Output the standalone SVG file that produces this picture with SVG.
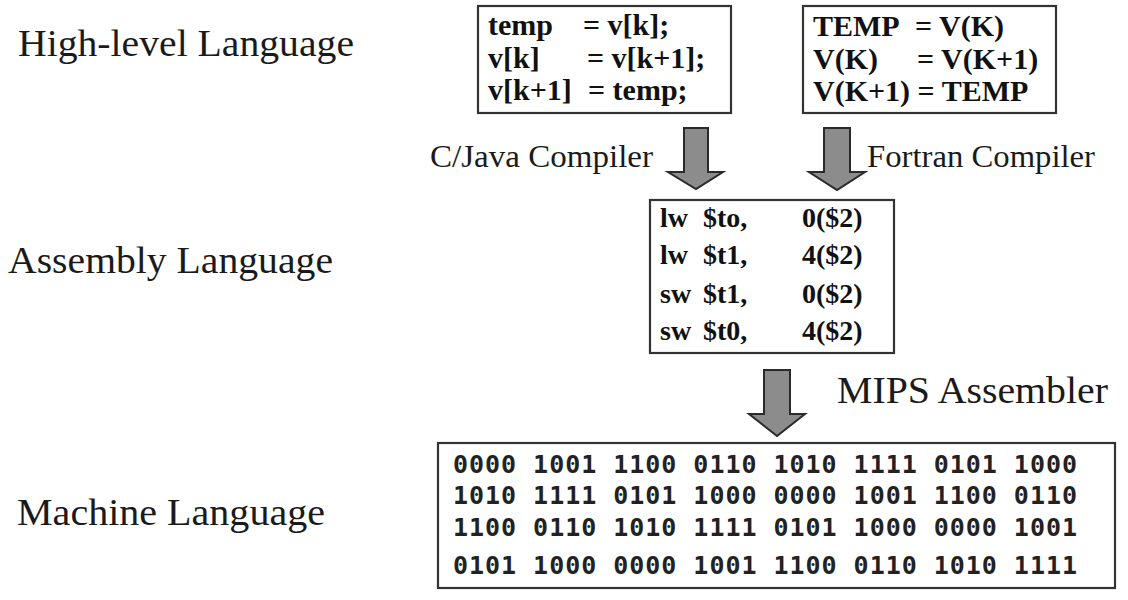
<svg xmlns="http://www.w3.org/2000/svg" width="1128" height="600" viewBox="0 0 1128 600">
<style>
.lbl{font-family:"Liberation Serif","Times New Roman",serif;fill:#1a1a1a}
.big{font-size:38px}
.mid{font-size:32px}
.code{font-family:"Liberation Serif","Times New Roman",serif;font-weight:bold;font-size:30px;fill:#111}
.asm{font-family:"Liberation Serif","Times New Roman",serif;font-weight:bold;font-size:28px;fill:#111}
.bin{font-family:"DejaVu Sans Mono","Liberation Mono",monospace;font-weight:bold;font-size:25px;fill:#222}
.box{fill:#fff;stroke:#333;stroke-width:2.2}
.arrow{fill:#8c8c8c;stroke:#2a2a2a;stroke-width:2;stroke-linejoin:miter}
</style>
<rect width="1128" height="600" fill="#fff"/>
<g id="labels">
<text class="lbl big" x="18" y="56" textLength="336" lengthAdjust="spacingAndGlyphs">High-level Language</text>
<text class="lbl big" x="8" y="273" textLength="325" lengthAdjust="spacingAndGlyphs">Assembly Language</text>
<text class="lbl big" x="17" y="525" textLength="308" lengthAdjust="spacingAndGlyphs">Machine Language</text>
</g>
<g id="c-code">
<rect class="box" x="478" y="6" width="253" height="107"/>
<text class="code" x="488" y="35">temp</text><text class="code" x="583" y="35">= v[k];</text>
<text class="code" x="488" y="68">v[k]</text><text class="code" x="587" y="68">= v[k+1];</text>
<text class="code" x="488" y="100">v[k+1]</text><text class="code" x="588" y="100">= temp;</text>
</g>
<g id="fortran-code">
<rect class="box" x="803" y="6" width="253" height="107"/>
<text class="code" x="813" y="36">TEMP</text><text class="code" x="915" y="36">= V(K)</text>
<text class="code" x="813" y="69">V(K)</text><text class="code" x="917" y="69">= V(K+1)</text>
<text class="code" x="813" y="101">V(K+1) = TEMP</text>
</g>
<g id="assembly-code">
<rect class="box" x="650" y="200" width="244" height="153"/>
<text class="asm" x="660" y="227">lw</text><text class="asm" x="703" y="227">$to,</text><text class="asm" x="802" y="227">0($2)</text>
<text class="asm" x="660" y="264">lw</text><text class="asm" x="703" y="264">$t1,</text><text class="asm" x="802" y="264">4($2)</text>
<text class="asm" x="660" y="303">sw</text><text class="asm" x="703" y="303">$t1,</text><text class="asm" x="802" y="303">0($2)</text>
<text class="asm" x="660" y="340">sw</text><text class="asm" x="703" y="340">$t0,</text><text class="asm" x="802" y="340">4($2)</text>
</g>
<g id="machine-code">
<rect class="box" x="438" y="443" width="677" height="145"/>
<text class="bin" x="453" y="473" textLength="624" xml:space="preserve">0000 1001 1100 0110 1010 1111 0101 1000</text>
<text class="bin" x="453" y="504" textLength="624" xml:space="preserve">1010 1111 0101 1000 0000 1001 1100 0110</text>
<text class="bin" x="453" y="536" textLength="624" xml:space="preserve">1100 0110 1010 1111 0101 1000 0000 1001</text>
<text class="bin" x="453" y="574" textLength="624" xml:space="preserve">0101 1000 0000 1001 1100 0110 1010 1111</text>
</g>
<g id="connectors">
<polygon class="arrow" points="684,128 708,128 708,172 723,172 696,189 668,172 684,172"/>
<polygon class="arrow" points="824,128 850,128 850,172 865,172 837,190 809,172 824,172"/>
<polygon class="arrow" points="764,370 790,370 790,414 805,414 777,436 749,414 764,414"/>
<text class="lbl mid" x="430" y="167" textLength="223" lengthAdjust="spacingAndGlyphs">C/Java Compiler</text>
<text class="lbl mid" x="867" y="167" textLength="228" lengthAdjust="spacingAndGlyphs">Fortran Compiler</text>
<text class="lbl" style="font-size:38px" x="837" y="403" textLength="271" lengthAdjust="spacingAndGlyphs">MIPS Assembler</text>
</g>
</svg>
